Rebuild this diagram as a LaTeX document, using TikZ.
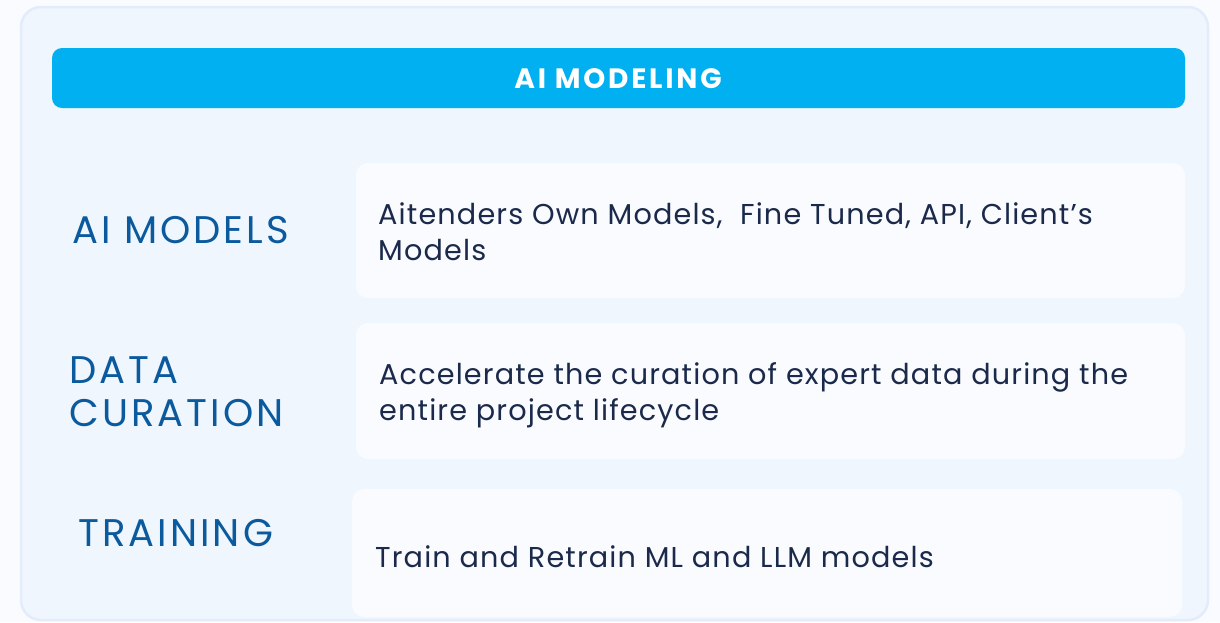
\documentclass[tikz,border=0pt]{standalone}
\usepackage{fontspec}
\setmainfont{Poppins}
\definecolor{pagebg}{HTML}{F9FBFF}
\definecolor{panelfill}{HTML}{EFF6FD}
\definecolor{panelline}{HTML}{E3ECFA}
\definecolor{headblue}{HTML}{00B0F0}
\definecolor{labelblue}{HTML}{0B5A9E}
\definecolor{bodynavy}{HTML}{1B2A4A}
\definecolor{cardfill}{HTML}{F9FBFF}
\tikzset{
  panel/.style={draw=panelline, line width=2.5pt, fill=panelfill, rounded corners=20pt},
  header/.style={fill=headblue, rounded corners=10pt},
  card/.style={fill=cardfill, rounded corners=12pt},
  label/.style={text=labelblue, font=\fontsize{38.5}{43}\selectfont\addfontfeature{LetterSpace=8}, align=left, inner sep=0pt},
  body/.style={text=bodynavy, font=\fontsize{28.7}{36}\selectfont\addfontfeature{LetterSpace=4}, align=left, inner sep=0pt},
  headtext/.style={text=white, font=\fontsize{28}{30}\selectfont\bfseries\addfontfeature{LetterSpace=10}, inner sep=0pt}
}
\begin{document}
\begin{tikzpicture}[x=1pt,y=-1pt]
\useasboundingbox[fill=pagebg] (0,0) rectangle (1220,622);
\path[panel] (21,7) rectangle (1208,620);
\path[header] (52,48) rectangle (1185,108);
\node[headtext, anchor=base] (title) at (618,88) {AI MODELING};

\path[card] (356,163) rectangle (1185,298);
\path[card] (356,323) rectangle (1185,459);
\path[card] (352,489) rectangle (1182,617);

\node[label, anchor=base west] (l1) at (72,243) {AI MODELS};
\node[label, anchor=base west] (l2) at (69,426) {DATA\\CURATION};
\node[label, anchor=base west] (l3) at (78,546) {TRAINING};

\node[body, anchor=base west] (t1) at (378,260) {Aitenders Own Models,\ \ Fine Tuned, API, Client’s\\Models};
\node[body, anchor=base west] (t2) at (379,420) {Accelerate the curation of expert data during the\\entire project lifecycle};
\node[body, anchor=base west] (t3) at (375,567) {Train and Retrain ML and LLM models};
\end{tikzpicture}
\end{document}
